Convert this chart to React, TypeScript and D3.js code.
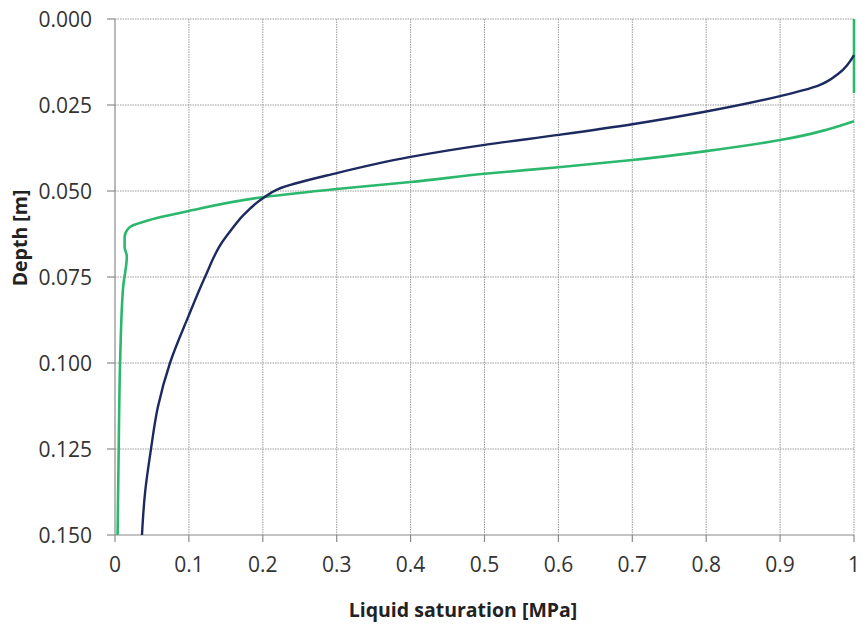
import React from "react";
import * as d3 from "d3";

const xTicks = [0, 0.1, 0.2, 0.3, 0.4, 0.5, 0.6, 0.7, 0.8, 0.9, 1];
const xTickLabels = ["0", "0.1", "0.2", "0.3", "0.4", "0.5", "0.6", "0.7", "0.8", "0.9", "1"];
const yTicks = [0, 0.025, 0.05, 0.075, 0.1, 0.125, 0.15];
const yTickLabels = ["0.000", "0.025", "0.050", "0.075", "0.100", "0.125", "0.150"];

// navy series: saturation vs depth
const navySat = [1.0, 0.98, 0.95, 0.9, 0.8, 0.7, 0.6, 0.5, 0.4, 0.3, 0.22, 0.2, 0.1737, 0.1556, 0.144, 0.1218, 0.099, 0.0744, 0.058, 0.0487, 0.0406, 0.0365];
const navyDepth = [0.0105, 0.0157, 0.0195, 0.0224, 0.0269, 0.0306, 0.0337, 0.0366, 0.0401, 0.0448, 0.0495, 0.0521, 0.057, 0.0618, 0.0652, 0.075, 0.0866, 0.1, 0.1128, 0.125, 0.1378, 0.15];

// green series: short vertical segment at saturation 1, then main curve
const greenTopSat = [1.0, 1.0];
const greenTopDepth = [0.0, 0.0215];
const greenSat = [1.0, 0.9, 0.8, 0.7, 0.6, 0.5, 0.4, 0.3, 0.2, 0.1, 0.047, 0.022, 0.016, 0.013, 0.013, 0.016, 0.011, 0.007, 0.005, 0.0035];
const greenDepth = [0.0297, 0.0352, 0.0384, 0.041, 0.0431, 0.045, 0.0474, 0.0494, 0.0518, 0.0558, 0.0584, 0.0602, 0.0615, 0.0635, 0.0663, 0.069, 0.078, 0.099, 0.125, 0.15];

const W = 863;
const H = 633;
const m = { left: 115, right: 854, top: 19, bottom: 535 };

export default function App() {
  const x = d3.scaleLinear().domain([0, 1]).range([m.left, m.right]);
  const y = d3.scaleLinear().domain([0, 0.15]).range([m.top, m.bottom]);
  const line = d3
    .line<[number, number]>()
    .x((d) => x(d[0]))
    .y((d) => y(d[1]))
    .curve(d3.curveMonotoneY);

  const navy: [number, number][] = navySat.map((s, i) => [s, navyDepth[i]]);
  const greenTop: [number, number][] = greenTopSat.map((s, i) => [s, greenTopDepth[i]]);
  const green: [number, number][] = greenSat.map((s, i) => [s, greenDepth[i]]);

  const font = "'Open Sans', sans-serif";
  const grid = "#9a9a9a";
  const axis = "#8a8a8a";

  return (
    <svg width={W} height={H} style={{ position: "absolute", left: 0, top: 0, background: "#fff" }}>
      {xTicks.slice(1).map((t) => (
        <line key={"gx" + t} x1={x(t)} x2={x(t)} y1={m.top} y2={m.bottom} stroke={grid} strokeWidth={1} strokeDasharray="1.5,1" />
      ))}
      {yTicks.slice(0, -1).map((t) => (
        <line key={"gy" + t} x1={m.left} x2={m.right} y1={y(t)} y2={y(t)} stroke={grid} strokeWidth={1} strokeDasharray="1.5,1" />
      ))}
      <line x1={m.left} x2={m.left} y1={m.top} y2={m.bottom} stroke={axis} strokeWidth={1.2} />
      <line x1={m.left} x2={m.right} y1={m.bottom} y2={m.bottom} stroke={axis} strokeWidth={1.2} />
      {xTicks.map((t) => (
        <line key={"tx" + t} x1={x(t)} x2={x(t)} y1={m.bottom} y2={m.bottom + 7} stroke={axis} strokeWidth={1.2} />
      ))}
      {yTicks.map((t) => (
        <line key={"ty" + t} x1={m.left - 8} x2={m.left} y1={y(t)} y2={y(t)} stroke={axis} strokeWidth={1.2} />
      ))}
      {xTicks.map((t, i) => (
        <text key={"lx" + t} x={x(t)} y={572} textAnchor="middle" fontFamily={font} fontSize={21} fill="#333">
          {xTickLabels[i]}
        </text>
      ))}
      {yTicks.map((t, i) => (
        <text key={"ly" + t} x={92} y={y(t)} dy="0.36em" textAnchor="end" fontFamily={font} fontSize={21} fill="#333">
          {yTickLabels[i]}
        </text>
      ))}
      <text x={463} y={617} textAnchor="middle" fontFamily={font} fontSize={19.5} fontWeight="bold" fill="#222">
        Liquid saturation [MPa]
      </text>
      <text transform={`translate(27,238) rotate(-90)`} textAnchor="middle" fontFamily={font} fontSize={19.5} fontWeight="bold" fill="#222">
        Depth [m]
      </text>
      <path d={line(green) || ""} fill="none" stroke="#2bb86c" strokeWidth={2.6} />
      <path d={line(greenTop) || ""} fill="none" stroke="#2bb86c" strokeWidth={2.6} />
      <path d={line(navy) || ""} fill="none" stroke="#1c2a60" strokeWidth={2.4} />
    </svg>
  );
}
